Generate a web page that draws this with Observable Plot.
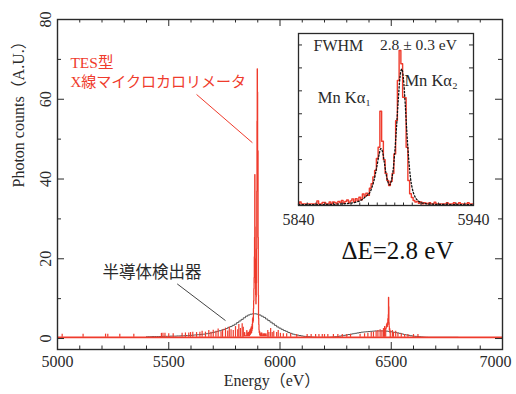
<!DOCTYPE html>
<html><head><meta charset="utf-8">
<script src="https://cdn.jsdelivr.net/npm/d3@7"></script>
<script src="https://cdn.jsdelivr.net/npm/@observablehq/plot@0.6"></script>
<style>
body{margin:0;background:#fff;}
#wrap{position:relative;width:516px;height:394px;overflow:hidden;}
#inset{position:absolute;left:278px;top:32px;}
</style></head><body><div id="wrap"><div id="main"></div><div id="inset"></div></div>
<script>
// ---- tick labels ----
const xTicks = [5000, 5500, 6000, 6500, 7000];
const yTicks = [0, 20, 40, 60, 80];
const insetXTicks = [5840, 5940];

// ---- semiconductor detector histogram (10 eV bins starting 5400) ----
const semiStart = 5400;
const semiCounts = [
  0.45,0.45,0.45,0.5,0.5,0.5,0.5,0.5,0.55,0.55,
  0.55,0.6,0.6,0.6,0.65,0.65,0.7,0.7,0.75,0.75,
  0.8,0.85,0.9,0.95,1.0,1.05,1.1,1.2,1.3,1.4,
  1.5,1.65,1.8,1.95,2.1,2.3,2.5,2.8,3.0,3.3,
  3.6,4.0,4.4,4.8,5.2,5.6,5.9,6.1,6.2,6.2,
  6.1,5.9,5.6,5.3,4.9,4.5,4.1,3.7,3.3,2.9,
  2.6,2.3,2.0,1.8,1.5,1.3,1.1,0.95,0.85,0.75,
  0.65,0.55,0.5,0.45,0.4,0.35,0.35,0.3,0.3,0.3,
  0.3,0.3,0.32,0.35,0.4,0.45,0.5,0.6,0.7,0.8,
  0.9,1.0,1.1,1.2,1.3,1.4,1.5,1.6,1.65,1.7,
  1.75,1.8,1.85,1.9,1.9,1.9,1.9,1.9,1.85,1.8,
  1.7,1.6,1.5,1.4,1.3,1.15,1.0,0.9,0.8,0.7,
  0.6,0.55,0.5,0.45,0.4,0.35,0.32,0.3,0.3,0.3,
  0.3,0.3,0.3,0.3,0.3,0.3,0.3,0.3,0.3,0.3,0.3
];

// ---- TES spectrum ----
const tesBaseline = 0.3;
const tesSpikeE = [5021,5115,5216,5226,5280,5343,5467,5474,5483,5500,5520,5560,5575,5590,5598,5608,5625,5640,5650,5665,5680,5690,5700,5712,5722,5735,5742,5755,5765,5772,5780,5790,5800,5810,5815,5822,5830,5835,
  5945,5950,5958,5965,5972,5985,5992,6002,6015,6030,6048,6075,6122,6140,6160,6175,6190,6200,6215,6240,6260,6280,6300,6317,6360,6380,6395,6410,6420,6432,6440,6450,6458,6465,6470,6475,6505,6510,6520,6530,6545,6560,6575,6600,6620];
const tesSpikeH = [1.1,1.1,1.1,1.1,1.1,1.1,1.3,1.3,1.3,1.2,1.2,1.3,1.4,1.4,1.5,1.6,1.5,1.6,1.8,1.6,2.0,1.6,2.1,1.8,2.4,1.7,2.2,2.6,1.9,2.8,2.2,2.0,3.0,2.2,3.5,2.5,3.7,2.8,
  2.0,1.5,2.5,1.5,1.8,1.5,2.0,1.3,1.2,1.2,1.2,1.0,1.0,1.0,1.0,1.0,1.0,1.0,1.0,1.0,1.0,1.0,1.0,1.0,1.1,1.2,1.3,1.5,1.6,1.8,2.0,2.2,2.0,2.5,3.0,2.5,2.0,1.5,1.8,1.3,1.2,1.0,1.0,1.0,1.0];

// Mn K-alpha region, 1 eV bins from 5840 to 5940
const kaStart = 5840;
const kaCounts = [
  0.7,1.5,0.7,0.7,0.7,0.7,0.7,0.7,0.7,0.7,
  0.7,2.0,0.7,0.7,1.3,1.3,0.7,0.7,1.5,0.7,
  1.5,1.3,0.7,1.8,1.3,2.2,1.0,1.8,2.4,1.3,
  2.0,2.9,1.5,3.0,2.0,3.6,2.5,5.0,4.0,5.4,
  4.4,7.5,9.5,12.5,15.3,20.5,25.4,41.1,28.0,20.0,
  14.0,10.9,8.7,10.5,14.0,22.5,37.0,54.5,67.6,61.8,
  47.2,47.0,25.4,10.9,5.1,3.5,2.2,1.5,1.8,1.0,
  1.5,0.7,1.2,1.0,0.7,1.2,0.7,0.7,1.4,0.7,
  0.7,0.7,0.7,0.7,0.7,1.2,0.7,0.7,0.7,1.2,
  0.7,0.7,1.2,0.7,0.7,0.7,0.7,1.2,0.7,0.7,0.7
];
// fit curve (dotted)
const fitE = [5840,5850,5860,5865,5870,5873,5875,5877,5879,5881,5882,5883,5884,5885,5886,5887,5888,5889,5890,5891,5892,5893,5894,5895,5896,5897,5898,5899,5900,5901,5902,5903,5904,5905,5906,5907,5908,5909,5910,5912,5915,5920,5930,5940];
const fitC = [0.4,0.4,0.5,0.7,1.0,1.5,2.0,3.0,4.3,6.0,8.0,10.5,14.0,18.0,22.0,24.8,23.5,19.0,14.0,10.5,9.0,10.5,15.0,23.0,34.0,46.0,56.0,59.5,55.0,44.0,31.0,20.0,12.0,7.5,4.8,3.2,2.3,1.7,1.3,0.9,0.6,0.5,0.4,0.4];

// Mn K-beta region, 1 eV bins from 6476
const kbStart = 6476;
const kbCounts = [2.5,3.0,2.8,3.5,3.2,3.8,3.0,4.0,3.5,5.0,4.0,6.0,10.3,8.0,4.0,3.0,2.2,2.5,1.5,2.0,0.3];

// ---- build tables ----
const semi = semiCounts.map((c, i) => ({e: semiStart + 10 * i, c}));
const ka = kaCounts.map((c, i) => ({e: kaStart + i, c}));
const kb = kbCounts.map((c, i) => ({e: kbStart + i, c}));
const spikes = tesSpikeE.map((e, i) => ({e, c: tesSpikeH[i]}));
const fit = fitE.map((e, i) => ({e, c: fitC[i]}));

const RED = "#ef3b2c";
const INK = "#2a2a2a";
const SERIF = "'Liberation Serif', 'Noto Sans CJK JP', serif";
const yDom = [-2.75, 80];
const xDom = [5000, 7000];
const xMinor = d3.range(5000, 7001, 100);
const yMinor = d3.range(0, 81, 10);
const pxY = 82.75 / 330, pxX = 2000 / 445;

const main = Plot.plot({
  width: 516, height: 394,
  marginLeft: 57, marginRight: 14, marginTop: 19, marginBottom: 45,
  style: {fontFamily: SERIF, fontSize: "16px", color: INK, background: "white", overflow: "visible"},
  x: {domain: xDom},
  y: {domain: yDom},
  marks: [
    Plot.line(semi, {x: "e", y: "c", curve: "step", stroke: "#555", strokeWidth: 1}),
    Plot.ruleY([tesBaseline], {x1: xDom[0], x2: xDom[1], stroke: RED, strokeWidth: 1.8}),
    Plot.ruleX(spikes, {x: "e", y1: tesBaseline, y2: "c", stroke: RED, strokeWidth: 1.2}),
    Plot.line(ka, {x: "e", y: "c", curve: "step", stroke: RED, strokeWidth: 1.2}),
    Plot.line(kb, {x: "e", y: "c", curve: "step", stroke: RED, strokeWidth: 1.2}),
    // leader lines
    Plot.link([{x1: 5625, y1: 61.2, x2: 5876, y2: 49.1}], {x1: "x1", y1: "y1", x2: "x2", y2: "y2", stroke: RED, strokeWidth: 1}),
    Plot.link([{x1: 5538, y1: 13.7, x2: 5755, y2: 4.5}], {x1: "x1", y1: "y1", x2: "x2", y2: "y2", stroke: "#444", strokeWidth: 1}),
    Plot.text(["TES型"], {x: 5058, y: 69.2, text: d => d, textAnchor: "start", fill: RED, fontSize: 15.5, fontFamily: SERIF}),
    Plot.text(["X線マイクロカロリメータ"], {x: 5058, y: 64.2, text: d => d, textAnchor: "start", fill: RED, fontSize: 15, fontFamily: SERIF}),
    Plot.text(["半導体検出器"], {x: 5202, y: 16.5, text: d => d, textAnchor: "start", fill: INK, fontSize: 16.5, fontFamily: SERIF}),
    Plot.text(["ΔE=2.8 eV"], {x: 6276, y: 22, text: d => d, textAnchor: "start", fill: "#111", fontSize: 25}),
    // inward ticks
    Plot.ruleX(xMinor, {x: d => d, y1: yDom[0], y2: d => yDom[0] + (d % 500 === 0 ? 7 : 3.5) * pxY, stroke: INK}),
    Plot.ruleX(xMinor, {x: d => d, y1: yDom[1], y2: d => yDom[1] - (d % 500 === 0 ? 7 : 3.5) * pxY, stroke: INK}),
    Plot.ruleY(yMinor, {y: d => d, x1: xDom[0], x2: d => xDom[0] + (d % 20 === 0 ? 7 : 4) * pxX, stroke: INK}),
    Plot.ruleY(yMinor, {y: d => d, x1: xDom[1], x2: d => xDom[1] - (d % 20 === 0 ? 7 : 4) * pxX, stroke: INK}),
    Plot.frame({stroke: INK, strokeWidth: 1.4}),
    Plot.axisX({ticks: xTicks.slice(0, -1), tickFormat: d => String(d), tickSize: 0, tickPadding: 6, label: null, fontSize: 16}),
    Plot.axisX({ticks: xTicks.slice(-1), tickFormat: d => String(d), tickSize: 0, tickPadding: 6, dx: -7, label: null, fontSize: 16}),
    Plot.axisY({ticks: yTicks, tickSize: 0, tickRotate: -90, tickPadding: 7, label: null, fontSize: 16}),
    Plot.text(["Photon counts（A.U.）"], {frameAnchor: "left", text: d => d, rotate: -90, dx: -39, dy: 3, fontSize: 16, fontFamily: SERIF, fill: INK}),
    Plot.text(["Energy（eV）"], {frameAnchor: "bottom", text: d => d, dy: 36, dx: -8, fontSize: 16, fontFamily: SERIF, fill: INK})
  ]
});
document.getElementById("main").appendChild(main);

// ---- inset ----
const ipxX = 100 / 175, ipxY = 75 / 172;
const insetYTicks = d3.range(10, 71, 10);
const insetXMinor = d3.range(5845, 5940, 5);
const inset = Plot.plot({
  width: 215, height: 195,
  marginLeft: 20, marginRight: 20, marginTop: 1, marginBottom: 22,
  style: {fontFamily: SERIF, fontSize: "16px", color: INK, background: "transparent", overflow: "visible"},
  x: {domain: [5840, 5940], axis: null},
  y: {domain: [0, 75], axis: null},
  marks: [
    Plot.line(ka, {x: "e", y: "c", curve: "step", stroke: RED, strokeWidth: 1.4}),
    Plot.line(fit, {x: "e", y: "c", curve: "monotone-x", stroke: "#111", strokeWidth: 1.3, strokeDasharray: "1.5,2"}),
    Plot.ruleY(insetYTicks, {y: d => d, x1: 5840, x2: 5840 + 4 * ipxX, stroke: INK}),
    Plot.ruleY(insetYTicks, {y: d => d, x1: 5940, x2: 5940 - 4 * ipxX, stroke: INK}),
    Plot.ruleX(insetXMinor, {x: d => d, y1: 0, y2: 2.5 * ipxY, stroke: INK}),
    Plot.frame({stroke: INK, strokeWidth: 1.3}),
    Plot.text(insetXTicks, {x: d => d, y: 0, text: d => String(d), dy: 14, fontSize: 16, fill: INK}),
    Plot.text(["FWHM"], {x: 5848.6, y: 69.8, text: d => d, textAnchor: "start", fontSize: 16, fill: INK}),
    Plot.text(["2.8 ± 0.3 eV"], {x: 5886.5, y: 69.8, text: d => d, textAnchor: "start", fontSize: 15.5, fill: INK}),
    Plot.text(["Mn Kα₁"], {x: 5851, y: 47, text: d => d, textAnchor: "start", fontSize: 16.5, fill: INK}),
    Plot.text(["Mn Kα₂"], {x: 5900.5, y: 54.5, text: d => d, textAnchor: "start", fontSize: 16.5, fill: INK})
  ]
});
document.getElementById("inset").appendChild(inset);
</script></body></html>
